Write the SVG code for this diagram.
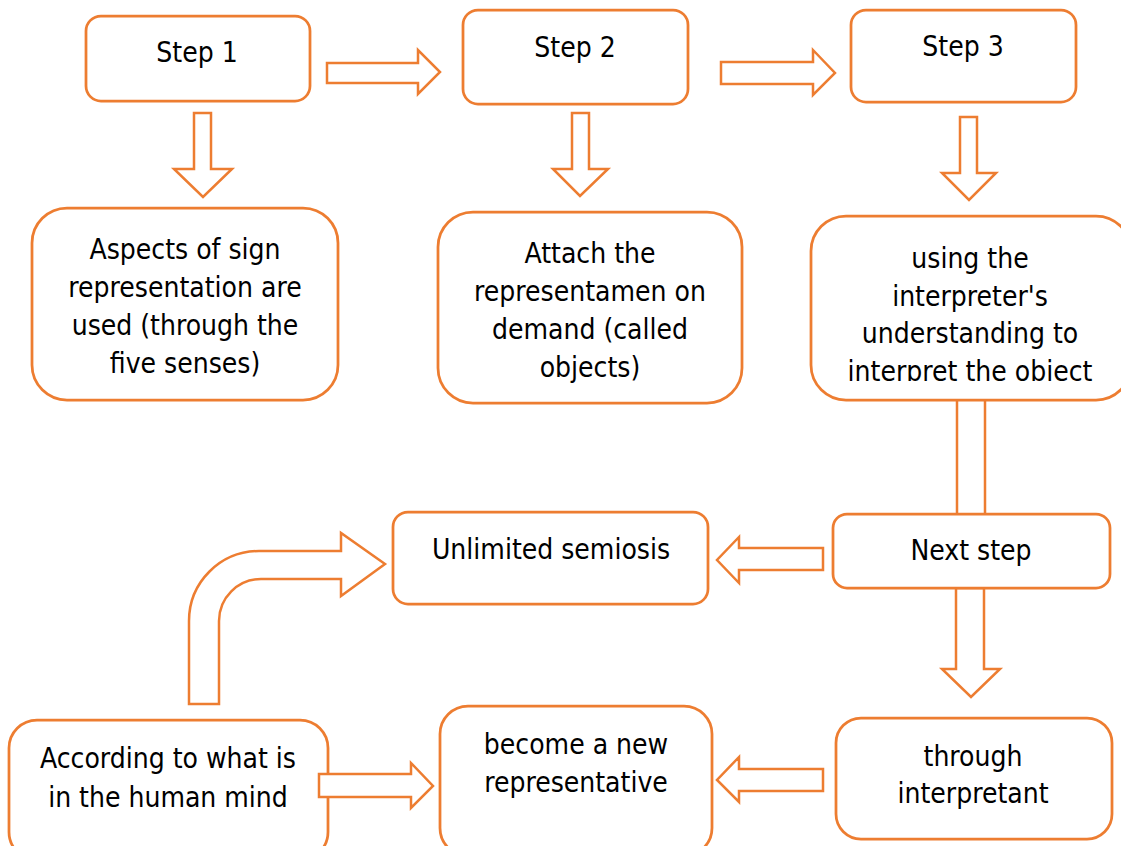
<svg xmlns="http://www.w3.org/2000/svg" width="1121" height="846" viewBox="0 0 1121 846">
  <defs>
    <style>
      .box { fill: #ffffff; stroke: #ED7D31; stroke-width: 2.75; }
      .arrow { fill: #ffffff; stroke: #ED7D31; stroke-width: 2.5; stroke-linejoin: miter; }
      .label { font-family: "DejaVu Sans Condensed", "DejaVu Sans", sans-serif; font-stretch: condensed; font-size: 28px; fill: #000000; text-anchor: middle; }
    </style>
    <clipPath id="clipC">
      <rect x="811" y="216" width="310" height="165"/>
    </clipPath>
  </defs>
  <rect width="1121" height="846" fill="#ffffff"/>

  <!-- connectors (block arrows) -->
  <g id="connectors">
    <!-- Step 1 -> Step 2 -->
    <path class="arrow" d="M327,63 H418 V50 L440,72 L418,94 V83 H327 Z"/>
    <!-- Step 2 -> Step 3 -->
    <path class="arrow" d="M721,62 H813 V50 L835,73 L813,95 V84 H721 Z"/>
    <!-- Step 1 down -->
    <path class="arrow" d="M194,113 H211 V169 H232 L203,197 L174,169 H194 Z"/>
    <!-- Step 2 down -->
    <path class="arrow" d="M572,113 H589 V169 H608 L580,196 L553,169 H572 Z"/>
    <!-- Step 3 down -->
    <path class="arrow" d="M960,117 H977 V173 H996 L969,200 L942,173 H960 Z"/>
    <!-- box C down to Next step (head hidden under the box) -->
    <path class="arrow" d="M957,398 H985 V520 H957 Z"/>
    <!-- Next step -> Unlimited semiosis -->
    <path class="arrow" d="M823,548 H739 V537 L717,560 L739,583 V570 H823 Z"/>
    <!-- Next step -> through interpretant -->
    <path class="arrow" d="M956,588 H984 V669 H1000 L971,697 L942,669 H956 Z"/>
    <!-- through interpretant -> become a new representative -->
    <path class="arrow" d="M823,769 H739 V757 L717,780 L739,802 V791 H823 Z"/>
    <!-- bent arrow up to Unlimited semiosis -->
    <path class="arrow" d="M189,704 V621 A70,70 0 0 1 259,551 H341 V533 L385,564 L341,596 V579 H261 A42,42 0 0 0 219,621 V704 Z"/>
  </g>

  <g id="step1">
    <rect class="box" x="86" y="16" width="224" height="85" rx="15"/>
    <text class="label" x="197" y="62">Step 1</text>
  </g>
  <g id="step2">
    <rect class="box" x="463" y="10" width="225" height="94" rx="15"/>
    <text class="label" x="575" y="57">Step 2</text>
  </g>
  <g id="step3">
    <rect class="box" x="851" y="10" width="225" height="92" rx="15"/>
    <text class="label" x="963" y="56">Step 3</text>
  </g>

  <g id="aspects">
    <rect class="box" x="32" y="208" width="306" height="192" rx="35"/>
    <text class="label" x="185" y="259">Aspects of sign</text>
    <text class="label" x="185" y="297">representation are</text>
    <text class="label" x="185" y="335">used (through the</text>
    <text class="label" x="185" y="373">five senses)</text>
  </g>

  <g id="attach">
    <rect class="box" x="438" y="212" width="304" height="191" rx="35"/>
    <text class="label" x="590" y="263">Attach the</text>
    <text class="label" x="590" y="301">representamen on</text>
    <text class="label" x="590" y="339">demand (called</text>
    <text class="label" x="590" y="377">objects)</text>
  </g>

  <g id="interpreter">
    <rect class="box" x="811" y="216" width="320" height="184" rx="35"/>
    <g clip-path="url(#clipC)">
      <text class="label" x="970" y="268">using the</text>
      <text class="label" x="970" y="306">interpreter's</text>
      <text class="label" x="970" y="343">understanding to</text>
      <text class="label" x="970" y="381">interpret the object</text>
    </g>
  </g>

  <g id="next-step">
    <rect class="box" x="833" y="514" width="277" height="74" rx="14"/>
    <text class="label" x="971" y="560">Next step</text>
  </g>

  <g id="unlimited-semiosis">
    <rect class="box" x="393" y="512" width="315" height="92" rx="15"/>
    <text class="label" x="551" y="559">Unlimited semiosis</text>
  </g>

  <g id="through-interpretant">
    <rect class="box" x="836" y="718" width="276" height="121" rx="25"/>
    <text class="label" x="973" y="766">through</text>
    <text class="label" x="973" y="803">interpretant</text>
  </g>

  <g id="new-representative">
    <rect class="box" x="440" y="706" width="272" height="150" rx="28"/>
    <text class="label" x="576" y="754">become a new</text>
    <text class="label" x="576" y="792">representative</text>
  </g>

  <g id="human-mind">
    <rect class="box" x="9" y="720" width="319" height="140" rx="28"/>
    <text class="label" x="168" y="768">According to what is</text>
    <text class="label" x="168" y="807">in the human mind</text>
  </g>

  <!-- this arrow starts inside its source box, so it sits above the nodes -->
  <g id="connectors-front">
    <path class="arrow" d="M319,774 H411 V763 L433,786 L411,808 V797 H319 Z"/>
  </g>
</svg>
